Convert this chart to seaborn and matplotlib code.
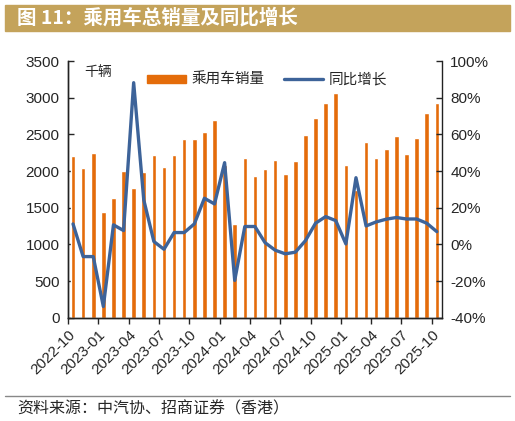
import numpy as np
import pandas as pd
import seaborn as sns
import matplotlib.pyplot as plt
from matplotlib.patches import Rectangle
from matplotlib.lines import Line2D

# месяцы 2022-10 .. 2025-10
months = pd.date_range("2022-10-01", "2025-10-01", freq="MS").strftime("%Y-%m").tolist()

# 乘用车销量, 千辆
sales = [2210, 2045, 2245, 1446, 1630, 1996, 1775, 1982, 2222, 2050,
         2222, 2435, 2435, 2534, 2701, 2085, 1283, 2177, 1938, 2023,
         2158, 1955, 2141, 2493, 2724, 2931, 3062, 2087, 1745, 2403,
         2182, 2304, 2480, 2231, 2449, 2791, 2923]

# 同比增长, %
yoy = [11.2, -6.6, -6.6, -33.8, 10.7, 7.6, 88.2, 24.3, 1.6, -2.6,
       6.5, 6.5, 11.2, 25.2, 22.1, 44.6, -19.6, 9.8, 9.8, 1.0,
       -3.1, -5.1, -4.2, 2.1, 11.6, 15.2, 13.0, 0.3, 36.4, 10.1,
       12.3, 13.8, 14.7, 13.9, 13.9, 11.6, 7.0]

left_ticks = [0, 500, 1000, 1500, 2000, 2500, 3000, 3500]
right_ticks = [-40, -20, 0, 20, 40, 60, 80, 100]

orange = "#E46C0A"
blue = "#3D6399"
cjk = ["Noto Sans CJK SC", "DejaVu Sans"]

sns.set_style("ticks")
plt.rcParams["font.family"] = ["Liberation Sans", "Noto Sans CJK SC", "DejaVu Sans"]

df = pd.DataFrame({"month": months, "sales": sales, "yoy": yoy})
df["pos"] = np.arange(len(df))

fig = plt.figure(figsize=(5.15, 4.21), dpi=100)
ax = fig.add_axes([0.132, 0.245, 0.726, 0.61])

sns.barplot(data=df, x="month", y="sales", order=months, color=orange,
            width=0.45, saturation=1, ax=ax)
ax.set_xlim(-0.5, len(months) - 0.5)
ax.set_ylim(0, 3500)
ax.set_yticks(left_ticks)
ax.set_xlabel("")
ax.set_ylabel("")

# подписи по границам категорий каждые 3 месяца
tick_pos = np.arange(0, len(months), 3) - 0.5
ax.set_xticks(tick_pos)
ax.set_xticklabels(months[::3], rotation=45, ha="right", rotation_mode="anchor", fontsize=11)
ax.tick_params(axis="x", direction="out", length=4, width=1, pad=3)
ax.tick_params(axis="y", direction="in", length=4, width=1, labelsize=11, pad=6)

ax2 = ax.twinx()
sns.lineplot(data=df, x="pos", y="yoy", color=blue, linewidth=2.4, ax=ax2)
ax2.set_ylim(-40, 100)
ax2.set_yticks(right_ticks)
ax2.set_yticklabels([f"{t}%" for t in right_ticks])
ax2.set_ylabel("")
ax2.set_xlabel("")
ax2.tick_params(axis="y", direction="in", length=4, width=1, labelsize=11, pad=6)

for a in (ax, ax2):
    a.spines["top"].set_visible(False)
    for s in ("left", "right", "bottom"):
        a.spines[s].set_color("#222222")
        a.spines[s].set_linewidth(1)
ax.spines["right"].set_visible(False)

ax.text(0.043, 0.985, "千辆", transform=ax.transAxes, fontsize=10,
        family=cjk, va="top", ha="left")

handles = [Rectangle((0, 0), 1, 1, color=orange), Line2D([], [], color=blue, lw=2.4)]
ax.legend(handles, ["乘用车销量", "同比增长"], loc="upper left",
          bbox_to_anchor=(0.175, 1.005), ncol=2, frameon=False,
          prop={"family": cjk, "size": 10.5}, handlelength=2.7, handleheight=0.5,
          columnspacing=1.3, handletextpad=0.4)

# заголовок на цветной плашке
fig.patches.append(Rectangle((5 / 515, 1 - 31 / 421), 505 / 515, 26 / 421,
                             transform=fig.transFigure, color="#C4A35B", zorder=0))
fig.text(17 / 515, 1 - 18 / 421, "图 11：乘用车总销量及同比增长", color="white",
         fontsize=14, fontweight="bold", family=cjk, va="center", ha="left")

# источник
fig.add_artist(Line2D([5 / 515, 510 / 515], [1 - 396 / 421, 1 - 396 / 421],
                      transform=fig.transFigure, color="#888888", lw=1))
fig.text(17 / 515, 1 - 409 / 421, "资料来源：中汽协、招商证券（香港）",
         fontsize=11.5, family=cjk, style="italic", va="center", ha="left")

fig.savefig("out.png", dpi=100)
